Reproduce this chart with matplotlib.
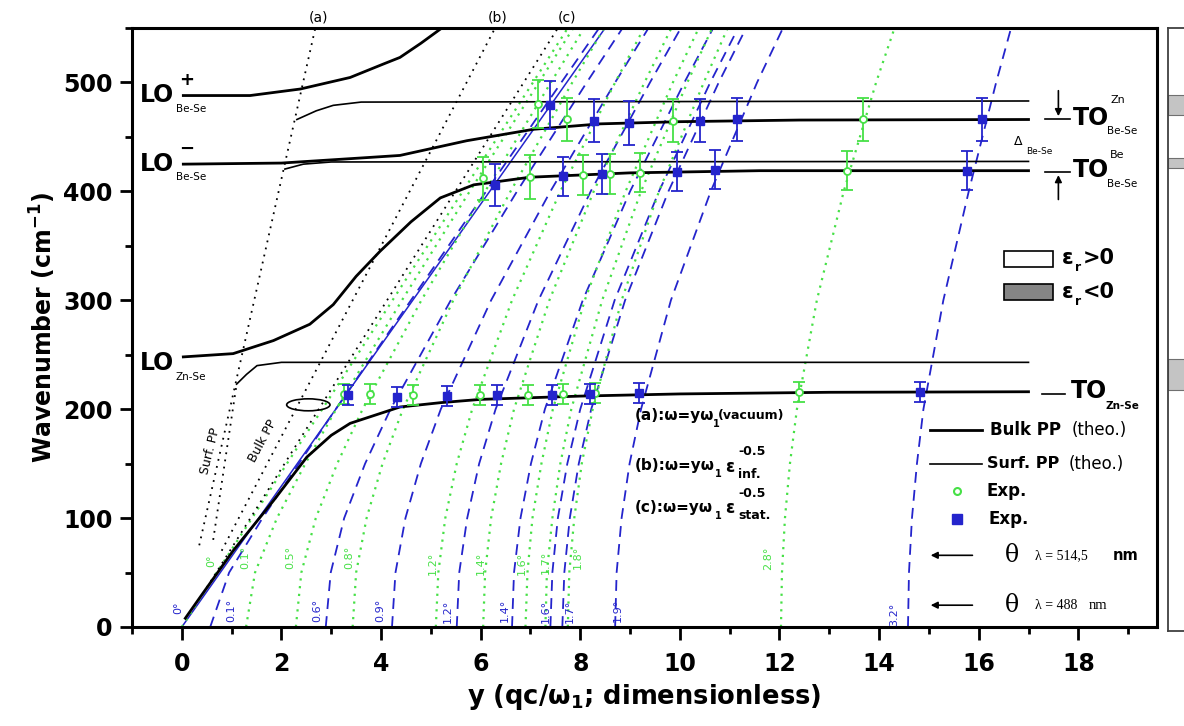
import matplotlib.pyplot as plt
from matplotlib.patches import Rectangle, Ellipse

plt.rcParams['font.family'] = ['DejaVu Sans']
plt.rcParams['mathtext.fontset'] = 'dejavusans'

BLUE = '#2424cc'
GREEN = '#46e046'

# ---- theory branches ----
bulk_low_x = [0.07, 0.37, 1.03, 1.84, 2.51, 3.0, 3.38, 4.38, 5.2, 6.0, 8.0, 10.0, 13.0, 17.0]
bulk_low_y = [8, 27.5, 70, 116, 156, 176, 187, 202, 206, 209, 212, 214, 215.5, 216]
bulk_mid_x = [0.03, 1.03, 1.84, 2.57, 3.04, 3.5, 3.98, 4.6, 5.19, 5.86, 6.99, 9.0, 11.6, 17.0]
bulk_mid_y = [248, 251, 263, 278, 296, 322, 345, 372, 394, 406, 413, 417, 419, 419]
bulk_up_x = [0.03, 2.0, 3.71, 4.38, 5.72, 7.06, 8.4, 10.0, 12.4, 17.0]
bulk_up_y = [425, 426, 431, 433, 446.5, 457, 462, 464, 465.5, 466]
bulk_top_x = [0.03, 1.37, 2.38, 3.38, 4.05, 4.38, 4.8, 5.19]
bulk_top_y = [488, 488, 494, 504.6, 517, 523, 536, 549]

surf_low_x = [1.10, 1.3, 1.51, 2.0, 17.0]
surf_low_y = [223, 232, 240, 243, 243]
surf_mid_x = [2.07, 2.44, 3.0, 17.0]
surf_mid_y = [420.5, 425, 427, 427.5]
surf_top_x = [2.31, 2.7, 3.04, 3.6, 17.0]
surf_top_y = [466, 474, 479, 482, 483]
surf_dot_x = [0.63, 1.10]
surf_dot_y = [80, 223]

# light lines (a), (b), (c)
line_a_x = [0.35, 2.68]
line_a_y = [75, 550]
line_b_x = [0.8, 6.29]
line_b_y = [70, 550]
line_c_x = [0.5, 7.55]
line_c_y = [36, 550]

# ---- scattering-angle curves: y read at these wavenumbers ----
w_lev = [0, 50, 100, 150, 200, 300, 400, 500, 550]

blue0_x = [0.0, 8.5]
blue0_y = [0, 550]
blue_x = [
    [0.57, 0.95, 1.62, 2.35, 3.09, 4.60, 6.11, 7.62, 8.38],
    [2.89, 2.99, 3.26, 3.68, 4.19, 5.40, 6.73, 8.13, 8.85],
    [4.22, 4.29, 4.49, 4.80, 5.20, 6.21, 7.40, 8.70, 9.37],
    [5.52, 5.57, 5.73, 5.97, 6.30, 7.16, 8.21, 9.40, 10.02],
    [6.63, 6.67, 6.80, 7.01, 7.29, 8.05, 9.00, 10.09, 10.67],
    [7.40, 7.44, 7.55, 7.74, 8.00, 8.69, 9.58, 10.61, 11.17],
    [7.64, 7.68, 7.79, 7.97, 8.22, 8.90, 9.77, 10.78, 11.33],
    [8.70, 8.73, 8.83, 8.99, 9.22, 9.82, 10.62, 11.55, 12.07],
    [14.58, 14.60, 14.66, 14.76, 14.89, 15.29, 15.80, 16.35, 16.65],
]
blue_labels = ['0°', '0.1°', '0.6°', '0.9°', '1.2°', '1.4°', '1.6°', '1.7°', '1.9°', '3.2°']
blue_lab_x = [-0.07, 1.00, 2.71, 3.98, 5.35, 6.49, 7.30, 7.80, 8.76, 14.30]
blue_lab_y = [18, 15, 15, 15, 14, 15, 14, 14, 15, 12]

green_x = [
    [0.00, 0.70, 1.41, 2.11, 2.82, 4.23, 5.64, 7.05, 7.75],
    [1.29, 1.47, 1.91, 2.48, 3.10, 4.42, 5.78, 7.17, 7.86],
    [2.29, 2.40, 2.69, 3.12, 3.63, 4.81, 6.09, 7.41, 8.08],
    [3.43, 3.50, 3.71, 4.03, 4.44, 5.45, 6.60, 7.84, 8.48],
    [5.10, 5.15, 5.29, 5.52, 5.83, 6.63, 7.60, 8.70, 9.28],
    [6.05, 6.09, 6.21, 6.41, 6.67, 7.38, 8.27, 9.29, 9.83],
    [6.90, 6.94, 7.04, 7.22, 7.45, 8.09, 8.91, 9.86, 10.38],
    [7.30, 7.33, 7.44, 7.60, 7.82, 8.44, 9.22, 10.15, 10.65],
    [7.75, 7.78, 7.88, 8.03, 8.25, 8.83, 9.58, 10.48, 10.96],
    [12.03, 12.05, 12.11, 12.21, 12.35, 12.75, 13.29, 13.94, 14.31],
]
green_labels = ['0°', '0.1°', '0.5°', '0.8°', '1.2°', '1.4°', '1.6°', '1.7°', '1.8°', '2.8°']
green_lab_x = [0.60, 1.27, 2.17, 3.36, 5.03, 6.01, 6.83, 7.30, 7.96, 11.77]
green_lab_y = [61, 64, 64, 64, 58, 58, 58, 59, 64, 63]

# ---- experimental points ----
exp_blue_x = [3.33, 4.32, 5.32, 6.33, 7.43, 8.20, 9.17, 14.82,
              6.29, 7.66, 8.43, 9.94, 10.71, 15.76,
              7.40, 8.27, 8.97, 10.41, 11.14, 16.06]
exp_blue_y = [213, 211, 212, 213, 213, 214, 215, 216,
              406, 414, 416, 418, 420, 419,
              479, 465, 463, 465, 466, 466]
exp_blue_err = [9, 9, 9, 9, 9, 9, 9, 9,
                19, 18, 18, 18, 18, 18,
                22, 20, 20, 20, 20, 20]
exp_green_x = [3.25, 3.78, 4.65, 5.99, 6.95, 7.66, 8.30, 12.4,
               6.05, 6.99, 8.05, 8.6, 9.2, 13.35,
               7.15, 7.73, 9.87, 13.68]
exp_green_y = [214, 214, 213, 213, 213, 214, 215, 216,
               412, 413, 415, 416, 417, 419,
               480, 466, 465, 466]
exp_green_err = [9, 9, 9, 9, 9, 9, 9, 9,
                 20, 20, 18, 18, 18, 18,
                 22, 20, 20, 20]

# bands of negative epsilon (side strip)
band_lo = [469, 420.5, 217]
band_hi = [488, 430, 246]

fig = plt.figure(figsize=(11.84, 7.26), dpi=100)
ax = fig.add_axes([0.1115, 0.1364, 0.8657, 0.825])

# angle curves
ax.plot(blue0_x, blue0_y, color=BLUE, lw=1.1, zorder=1)
for xs in blue_x:
    ax.plot(xs, w_lev, color=BLUE, lw=1.3, ls=(0, (6, 4)), zorder=1)
for xs in green_x:
    ax.plot(xs, w_lev, color=GREEN, lw=1.6, ls=(0, (1, 2.5)), zorder=1)
for t, x, y in zip(blue_labels, blue_lab_x, blue_lab_y):
    ax.text(x, y, t, color=BLUE, fontsize=8, rotation=90, ha='center', va='center')
for t, x, y in zip(green_labels, green_lab_x, green_lab_y):
    ax.text(x, y, t, color=GREEN, fontsize=8, rotation=90, ha='center', va='center')

# light lines
for xs, ys in [(line_a_x, line_a_y), (line_b_x, line_b_y), (line_c_x, line_c_y),
               (surf_dot_x, surf_dot_y)]:
    ax.plot(xs, ys, color='black', lw=1.3, ls=(0, (1, 3)), zorder=2)
ax.text(2.74, 553, '(a)', fontsize=10, ha='center', va='bottom', clip_on=False)
ax.text(6.34, 553, '(b)', fontsize=10, ha='center', va='bottom', clip_on=False)
ax.text(7.74, 553, '(c)', fontsize=10, ha='center', va='bottom', clip_on=False)

# theory curves
for xs, ys in [(bulk_low_x, bulk_low_y), (bulk_mid_x, bulk_mid_y),
               (bulk_up_x, bulk_up_y), (bulk_top_x, bulk_top_y)]:
    ax.plot(xs, ys, color='black', lw=2.0, zorder=3)
for xs, ys in [(surf_low_x, surf_low_y), (surf_mid_x, surf_mid_y), (surf_top_x, surf_top_y)]:
    ax.plot(xs, ys, color='black', lw=1.2, zorder=3)

# experiment
ax.errorbar(exp_green_x, exp_green_y, yerr=exp_green_err, fmt='o', ms=5, mfc='white',
            mec=GREEN, mew=1.3, ecolor=GREEN, elinewidth=1.3, capsize=4, capthick=1.3, zorder=4)
ax.errorbar(exp_blue_x, exp_blue_y, yerr=exp_blue_err, fmt='s', ms=6, color=BLUE,
            ecolor=BLUE, elinewidth=1.3, capsize=4, capthick=1.3, zorder=5)

ax.add_patch(Ellipse((2.54, 204), 0.87, 11, fill=False, ec='black', lw=1.2, zorder=3))
ax.text(0.57, 162, 'Surf. PP', fontsize=9, rotation=76, ha='center', va='center')
ax.text(1.63, 171, 'Bulk PP', fontsize=9, rotation=62, ha='center', va='center')

# mode labels on the left
for y0, sup, sub in [(488.6, '+', 'Be-Se'), (425.4, '−', 'Be-Se'), (242, None, 'Zn-Se')]:
    ax.text(-0.84, y0, 'LO', fontsize=17, fontweight='bold', va='center')
    if sup:
        ax.text(-0.05, y0 + 14, sup, fontsize=13, fontweight='bold', va='center')
    ax.text(-0.12, y0 - 12.5, sub, fontsize=7.5, va='center')

# mode labels on the right
ax.text(17.9, 467, 'TO', fontsize=17, fontweight='bold', va='center')
ax.text(18.64, 484, 'Zn', fontsize=8, va='center')
ax.text(18.58, 455, 'Be-Se', fontsize=7.5, va='center')
ax.text(17.9, 419.5, 'TO', fontsize=17, fontweight='bold', va='center')
ax.text(18.64, 433, 'Be', fontsize=8, va='center')
ax.text(18.58, 407, 'Be-Se', fontsize=7.5, va='center')
ax.text(16.7, 446, 'Δ', fontsize=9, va='center')
ax.text(16.95, 437, 'Be-Se', fontsize=6.5, va='center')
ax.plot([17.33, 17.83], [466, 466], color='black', lw=1.2)
ax.plot([17.33, 17.83], [418, 418], color='black', lw=1.2)
ax.annotate('', xy=(17.6, 466.5), xytext=(17.6, 495),
            arrowprops=dict(arrowstyle='-|>', color='black', lw=1.2, mutation_scale=10))
ax.annotate('', xy=(17.6, 417.5), xytext=(17.6, 390),
            arrowprops=dict(arrowstyle='-|>', color='black', lw=1.2, mutation_scale=10))
ax.plot([17.27, 17.74], [214, 214], color='black', lw=1.2)
ax.text(17.86, 216.5, 'TO', fontsize=17, fontweight='bold', va='center')
ax.text(18.55, 203, 'Zn-Se', fontsize=7.5, fontweight='bold', va='center')

# epsilon key
ax.add_patch(Rectangle((16.5, 330.5), 1.0, 15, fc='white', ec='black', lw=1.2))
ax.add_patch(Rectangle((16.5, 300), 1.0, 15, fc='#858585', ec='black', lw=1.2))
for yy, sign in [(339, '>0'), (308, '<0')]:
    ax.text(17.66, yy, 'ε', fontsize=15, fontweight='bold', va='center')
    ax.text(17.93, yy - 9, 'r', fontsize=9, fontweight='bold', va='center')
    ax.text(18.08, yy, sign, fontsize=15, fontweight='bold', va='center')

# formulas
ax.text(9.1, 194, '(a):ω=yω', fontsize=11, fontweight='bold', va='center')
ax.text(10.66, 186, '1', fontsize=7, fontweight='bold', va='center')
ax.text(10.76, 194, '(vacuum)', fontsize=9, fontweight='bold', va='center')
for yy, sub in [(148.3, 'inf.'), (110, 'stat.')]:
    lab = '(b):ω=yω' if sub == 'inf.' else '(c):ω=yω'
    ax.text(9.1, yy, lab, fontsize=11, fontweight='bold', va='center')
    ax.text(10.7, yy - 8, '1', fontsize=7, fontweight='bold', va='center')
    ax.text(10.9, yy - 1, 'ε', fontsize=12, fontweight='bold', va='center')
    ax.text(11.17, yy + 12.5, '-0.5', fontsize=9, fontweight='bold', va='center')
    ax.text(11.17, yy - 8, sub, fontsize=9, fontweight='bold', va='center')

# legend-like key
ax.plot([15.03, 16.07], [180.5, 180.5], color='black', lw=2.0)
ax.text(16.23, 180.5, 'Bulk PP', fontsize=12, fontweight='bold', va='center')
ax.text(17.86, 180.5, '(theo.)', fontsize=12, va='center')
ax.plot([15.03, 16.07], [150, 150], color='black', lw=1.2)
ax.text(16.17, 150, 'Surf. PP', fontsize=11.5, fontweight='bold', va='center')
ax.text(17.8, 150, '(theo.)', fontsize=12, va='center')
ax.plot([15.57], [124.5], 'o', ms=5, mfc='white', mec=GREEN, mew=1.5)
ax.text(16.15, 124.5, 'Exp.', fontsize=12, fontweight='bold', va='center')
ax.plot([15.57], [98.8], 's', ms=7, color=BLUE)
ax.text(16.2, 98.8, 'Exp.', fontsize=12, fontweight='bold', va='center')
for yy, lam, nm_bold in [(65.8, 'λ = 514,5', True), (20, 'λ = 488', False)]:
    ax.annotate('', xy=(14.98, yy), xytext=(15.93, yy),
                arrowprops=dict(arrowstyle='-|>', color='black', lw=1.2, mutation_scale=10))
    ax.text(16.53, yy, 'θ', fontsize=17, family='DejaVu Serif', va='center')
    ax.text(17.14, yy, lam, fontsize=10, family='Liberation Serif', va='center')
    ax.text(18.7 if nm_bold else 18.2, yy, 'nm', fontsize=10.5,
            fontweight='bold' if nm_bold else 'normal',
            family='DejaVu Sans' if nm_bold else 'Liberation Serif', va='center')

ax.set_xlim(-1, 19.58)
ax.set_ylim(0, 550)
ax.set_xticks(range(0, 19, 2))
ax.set_xticks(range(-1, 20), minor=True)
ax.set_yticks(range(0, 501, 100))
ax.set_yticks(range(0, 551, 50), minor=True)
ax.tick_params(which='major', direction='out', length=9, width=2, labelsize=17)
ax.tick_params(which='minor', direction='out', length=5, width=2)
ax.tick_params(axis='x', which='major', pad=9)
ax.tick_params(axis='y', which='major', pad=5)
for lab in ax.get_xticklabels() + ax.get_yticklabels():
    lab.set_fontweight('bold')
for sp in ax.spines.values():
    sp.set_linewidth(2.2)
ax.set_xlabel('y (qc/ω$_\\mathbf{1}$; dimensionless)', fontsize=18.5, fontweight='bold', labelpad=4)
ax.set_ylabel('Wavenumber (cm$^\\mathbf{-1}$)', fontsize=17, fontweight='bold', labelpad=4)

# side strip
ax2 = fig.add_axes([1168 / 1184, 0.1309, 0.05, 0.8305])
ax2.set_ylim(-3.9, 549.2)
ax2.set_xlim(0, 1)
for lo, hi in zip(band_lo, band_hi):
    ax2.axhspan(lo, hi, fc='#c4c4c4', ec='#707070', lw=0.8)
ax2.set_xticks([])
ax2.set_yticks([])
for sp in ax2.spines.values():
    sp.set_linewidth(1.3)
    sp.set_color('#404040')

fig.savefig('out.png', dpi=100)
